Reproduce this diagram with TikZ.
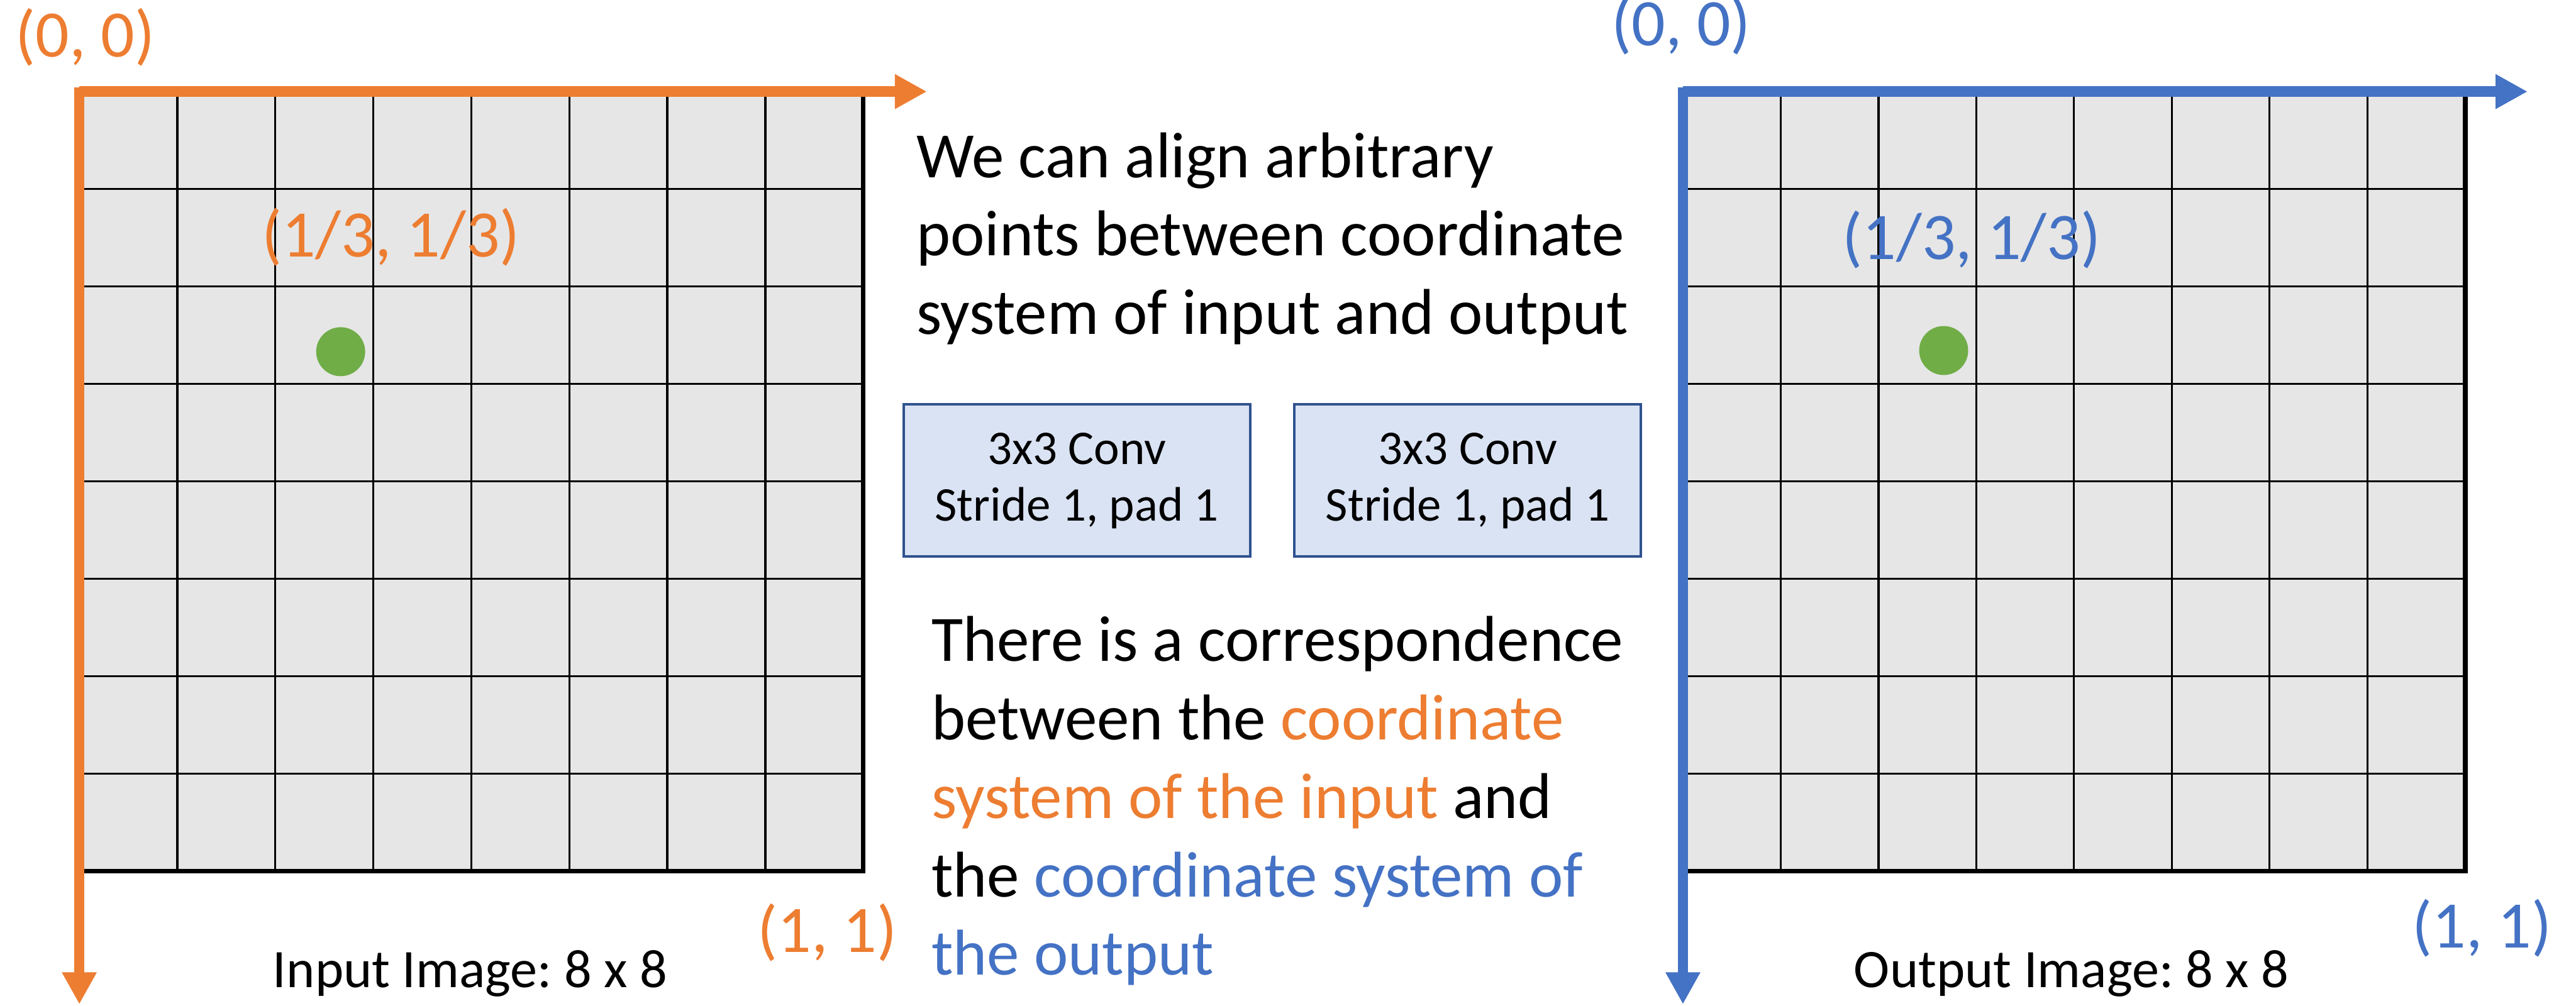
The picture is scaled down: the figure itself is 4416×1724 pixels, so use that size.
\documentclass[tikz,border=0pt]{standalone}
\usepackage{fontspec}
\setmainfont{Carlito}
\frenchspacing
\usetikzlibrary{arrows.meta,positioning}
\definecolor{axorange}{HTML}{ED7D31}
\definecolor{axblue}{HTML}{4472C4}
\definecolor{dotgreen}{HTML}{70AD47}
\definecolor{cellgray}{HTML}{E6E6E6}
\definecolor{convfill}{HTML}{DAE3F3}
\definecolor{convline}{HTML}{2F528F}
\begin{document}
\begin{tikzpicture}[x=0.1pt, y=-0.1pt, every node/.style={inner sep=0pt},
		conv/.style={draw=convline, line width=0.45pt, fill=convfill, minimum width=59.4pt, minimum height=26.1pt, align=center, font=\fontsize{8.3}{9.7}\selectfont},
		axis/.style={line width=1.8pt, -{Triangle[length=5.5pt, width=5.6pt]}},
		coord/.style={anchor=base, font=\fontsize{11.4}{13}\selectfont},
		caption/.style={anchor=base, font=\fontsize{9.3}{11}\selectfont},
		body/.style={anchor=base west, align=left, font=\fontsize{11.1}{13.45}\selectfont}]
	\useasboundingbox (0,0) rectangle (4416,1724);
	\foreach \gx/\gw in {136/1344, 2885/1341} {
		\fill[cellgray] (\gx,157) rectangle ++(\gw,1337);
		\foreach \k in {1,...,7} {
			\draw[line width=0.35pt] ({\gx+\k*\gw/8},157) -- ++(0,1337);
			\draw[line width=0.35pt] (\gx,{157+\k*1337/8}) -- ++(\gw,0);
		}
		\draw[line width=0.8pt] ({\gx+\gw},157) -- ++(0,1337) -- ++(-\gw,0);
	}
	\coordinate (inO) at (136,157); \coordinate (inX) at (1589,157); \coordinate (inY) at (136,1722);
	\coordinate (outO) at (2885,157); \coordinate (outX) at (4333,157); \coordinate (outY) at (2885,1722);
	\draw[axis, axorange] ([yshift=0.7pt]inO) -- (inY); \draw[axis, axorange] (inO) -- (inX);
	\draw[axis, axblue] ([yshift=0.7pt]outO) -- (outY); \draw[axis, axblue] (outO) -- (outX);
	\node[circle, fill=dotgreen, minimum size=8.4pt] (indot) at (584,603) {};
	\node[circle, fill=dotgreen, minimum size=8.4pt] (outdot) at (3332,601) {};
	\node[coord, text=axorange] (in00) at (146,98) {(0, 0)};
	\node[coord, text=axblue] (out00) at (2882,78) {(0, 0)};
	\node[coord, text=axorange] (inthird) at (670,440) {(1/3, 1/3)};
	\node[coord, text=axblue] (outthird) at (3380,445) {(1/3, 1/3)};
	\node[coord, text=axorange] (in11) at (1418,1633) {(1, 1)};
	\node[coord, text=axblue] (out11) at (4255,1625) {(1, 1)};
	\node[caption] (incap) at (806,1693) {Input Image: 8 x 8};
	\node[caption] (outcap) at (3551,1693) {Output Image: 8 x 8};
	\node[body] (align) at (1569,573) {We can align arbitrary\\points between coordinate\\system of input and output};
	\node[conv] (conva) at (1846,824) {3x3 Conv\\Stride 1, pad 1};
	\node[conv] (convb) at (2516,824) {3x3 Conv\\Stride 1, pad 1};
	\node[body] (corr) at (1595,1672) {There is a correspondence\\between the {\color{axorange}coordinate}\\{\color{axorange}system of the input} and\\the {\color{axblue}coordinate system of}\\{\color{axblue}the output}};
\end{tikzpicture}
\end{document}
